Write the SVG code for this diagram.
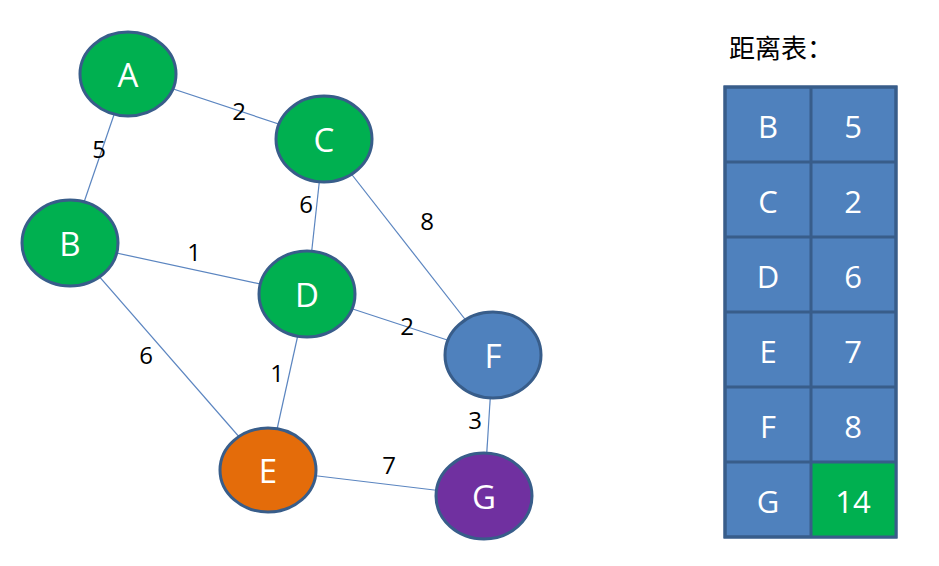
<svg xmlns="http://www.w3.org/2000/svg" width="939" height="566" viewBox="0 0 939 566">
  <style>
    .edge { stroke: #5B85C0; stroke-width: 1.2; fill: none; }
    .node ellipse { stroke: #385D8A; stroke-width: 3; }
    .node text { fill: #fff; font-family: "Open Sans", "Liberation Sans", sans-serif; font-size: 33px; text-anchor: middle; dominant-baseline: central; }
    .w { fill: #000; font-family: "Open Sans", "Liberation Sans", sans-serif; font-size: 24px; text-anchor: middle; dominant-baseline: central; }
    .cell { fill: #4F81BD; stroke: #385D8A; stroke-width: 3; }
    .cell-hl { fill: #00B050; }
    .ct { fill: #fff; font-family: "Open Sans", "Liberation Sans", sans-serif; font-size: 31px; text-anchor: middle; dominant-baseline: central; }
  </style>

  <!-- connectors -->
  <g id="edges">
    <line class="edge" x1="128" y1="74" x2="324" y2="139"/>
    <line class="edge" x1="128" y1="74" x2="70" y2="243"/>
    <line class="edge" x1="324" y1="139" x2="307" y2="294"/>
    <line class="edge" x1="324" y1="139" x2="493" y2="355"/>
    <line class="edge" x1="70" y1="243" x2="307" y2="294"/>
    <line class="edge" x1="70" y1="243" x2="268" y2="470"/>
    <line class="edge" x1="307" y1="294" x2="493" y2="355"/>
    <line class="edge" x1="307" y1="294" x2="268" y2="470"/>
    <line class="edge" x1="493" y1="355" x2="484" y2="496"/>
    <line class="edge" x1="268" y1="470" x2="484" y2="496"/>
  </g>

  <!-- edge weights -->
  <g id="weights">
    <text class="w" x="239" y="110">2</text>
    <text class="w" x="99" y="148">5</text>
    <text class="w" x="306" y="203">6</text>
    <text class="w" x="427" y="220">8</text>
    <text class="w" x="194" y="251">1</text>
    <text class="w" x="407" y="325">2</text>
    <text class="w" x="146" y="354">6</text>
    <text class="w" x="277" y="372">1</text>
    <text class="w" x="475" y="419">3</text>
    <text class="w" x="389" y="464">7</text>
  </g>

  <!-- vertices -->
  <g id="node-A" class="node"><ellipse cx="128" cy="74" rx="48" ry="42" fill="#00B050"/><text x="128" y="74">A</text></g>
  <g id="node-B" class="node"><ellipse cx="70" cy="243" rx="48" ry="43" fill="#00B050"/><text x="70" y="243">B</text></g>
  <g id="node-C" class="node"><ellipse cx="324" cy="139" rx="48" ry="43" fill="#00B050"/><text x="324" y="139">C</text></g>
  <g id="node-D" class="node"><ellipse cx="307" cy="294" rx="48" ry="43" fill="#00B050"/><text x="307" y="294">D</text></g>
  <g id="node-E" class="node"><ellipse cx="268" cy="470" rx="48" ry="42" fill="#E46C0A"/><text x="268" y="470">E</text></g>
  <g id="node-F" class="node"><ellipse cx="493" cy="355" rx="48" ry="43" fill="#4F81BD"/><text x="493" y="355">F</text></g>
  <g id="node-G" class="node"><ellipse cx="484" cy="496" rx="48" ry="43" fill="#7030A0"/><text x="484" y="496">G</text></g>

  <!-- distance table -->
  <g id="table">
    <text x="729" y="46" font-family="Noto Sans CJK SC, sans-serif" font-size="26" fill="#000" dominant-baseline="central">距离表：</text>
    <rect class="cell" x="725" y="87" width="171" height="450"/>
    <rect class="cell-hl" x="811" y="462" width="85" height="75"/>
    <g stroke="#385D8A" stroke-width="3">
      <line x1="811" y1="87" x2="811" y2="537"/>
      <line x1="725" y1="162" x2="896" y2="162"/>
      <line x1="725" y1="237" x2="896" y2="237"/>
      <line x1="725" y1="312" x2="896" y2="312"/>
      <line x1="725" y1="387" x2="896" y2="387"/>
      <line x1="725" y1="462" x2="896" y2="462"/>
    </g>
    <rect x="725" y="87" width="171" height="450" fill="none" stroke="#385D8A" stroke-width="3"/>
    <text class="ct" x="768" y="126">B</text><text class="ct" x="853" y="126">5</text>
    <text class="ct" x="768" y="201">C</text><text class="ct" x="853" y="201">2</text>
    <text class="ct" x="768" y="276">D</text><text class="ct" x="853" y="276">6</text>
    <text class="ct" x="768" y="351">E</text><text class="ct" x="853" y="351">7</text>
    <text class="ct" x="768" y="426">F</text><text class="ct" x="853" y="426">8</text>
    <text class="ct" x="768" y="501">G</text><text class="ct" x="853" y="501">14</text>
  </g>
</svg>
